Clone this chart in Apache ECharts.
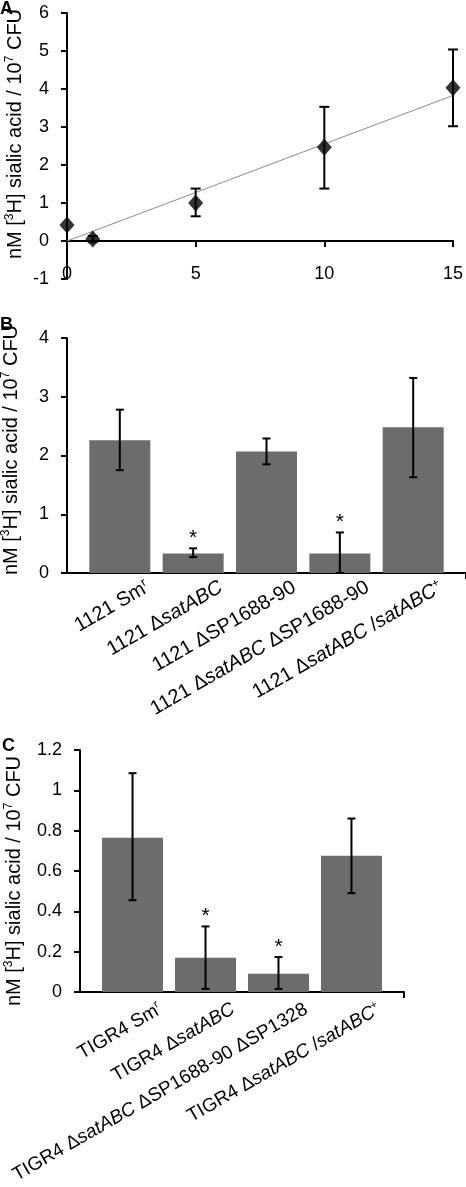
<!DOCTYPE html>
<html>
<head>
<meta charset="utf-8">
<script src="https://cdn.jsdelivr.net/npm/echarts@6/dist/echarts.min.js"></script>
<style>
html,body{margin:0;padding:0;background:#fff;}
#chart{width:466px;height:1187px;}
</style>
</head>
<body>
<div id="chart"></div>
<script>
// ---------- Panel A ----------
const concA = [0, 1, 5, 10, 15];
const meanA = [0.42, 0.05, 1.0, 2.47, 4.03];
const lowA  = [null, -0.03, 0.65, 1.38, 3.02];
const highA = [null, 0.13, 1.38, 3.53, 5.04];
const trendX = [0, 15];
const trendY = [0, 3.83];
const yTicksA = [-1, 0, 1, 2, 3, 4, 5, 6];
const xTicksA = [0, 5, 10, 15];

// ---------- Panel B ----------
const catsB = ['1121 Sm^r', '1121 ΔsatABC', '1121 ΔSP1688-90', '1121 ΔsatABC ΔSP1688-90', '1121 ΔsatABC /satABC^+'];
const meanB = [2.26, 0.33, 2.07, 0.33, 2.48];
const lowB  = [1.75, 0.27, 1.85, 0.0, 1.63];
const highB = [2.78, 0.42, 2.29, 0.69, 3.32];
const sigB  = [false, true, false, true, false];

// ---------- Panel C ----------
const catsC = ['TIGR4 Sm^r', 'TIGR4 ΔsatABC', 'TIGR4 ΔsatABC ΔSP1688-90 ΔSP1328', 'TIGR4 ΔsatABC /satABC^+'];
const meanC = [0.765, 0.17, 0.09, 0.675];
const lowC  = [0.455, 0.015, 0.015, 0.49];
const highC = [1.085, 0.325, 0.173, 0.86];
const sigC  = [false, true, true, false];

const yTitle = 'nM [^3H] sialic acid / 10^7 CFU';

const FONT = '"Liberation Sans", Arial, Helvetica, sans-serif';
const LBL_SHIFT = 0.38;
const PAD = 0.72;

function richName(name) {
  return name.replace(/satABC/g, '{i|satABC}').replace(/\^(.)/g, '{s|$1}');
}
function richTitle(t) {
  return t.split(/\^(.)/).map((p, k) => k % 2 ? '{s|' + p + '}' : '{t|' + p + '}').join('');
}

function labelRich(fs) {
  return {
    i: {fontStyle: 'italic', fontSize: fs, fontFamily: FONT, color: '#000'},
    s: {fontSize: Math.round(fs * 0.6), fontFamily: FONT, color: '#000', verticalAlign: 'top', lineHeight: 12}
  };
}

function errSeries(xi, yi, xs, lo, hi, capW) {
  const data = [];
  xs.forEach((x, i) => { if (lo[i] != null) data.push([x, lo[i], hi[i]]); });
  return {
    type: 'custom', xAxisIndex: xi, yAxisIndex: yi, z: 5, silent: true,
    encode: {x: 0, y: [1, 2]},
    data: data,
    renderItem: function (params, api) {
      const x = api.value(0), l = api.value(1), h = api.value(2);
      const pl = api.coord([x, l]), ph = api.coord([x, h]);
      const st = {stroke: '#000', lineWidth: 2};
      return {type: 'group', children: [
        {type: 'line', shape: {x1: pl[0], y1: pl[1], x2: ph[0], y2: ph[1]}, style: st},
        {type: 'line', shape: {x1: ph[0] - capW / 2, y1: ph[1], x2: ph[0] + capW / 2, y2: ph[1]}, style: st},
        {type: 'line', shape: {x1: pl[0] - capW / 2, y1: pl[1], x2: pl[0] + capW / 2, y2: pl[1]}, style: st}
      ]};
    }
  };
}
function starSeries(xi, yi, sig, hi) {
  const data = [];
  sig.forEach((s, i) => { if (s) data.push([i, hi[i]]); });
  return {
    type: 'custom', xAxisIndex: xi, yAxisIndex: yi, z: 6, silent: true,
    encode: {x: 0, y: 1},
    data: data,
    renderItem: function (params, api) {
      const p = api.coord([api.value(0), api.value(1)]);
      return {type: 'text', x: p[0], y: p[1] - 10,
        style: {text: '*', fontSize: 21, fontFamily: FONT, fill: '#000', align: 'center', verticalAlign: 'middle'}};
    }
  };
}

function catXAxis(gi, cats, margin, fs) {
  const mx = cats.length - 1 + PAD;
  return {
    gridIndex: gi, type: 'value', min: -PAD, max: mx,
    axisLine: {show: true, onZero: false, lineStyle: {color: '#000', width: 2}},
    axisTick: {show: true, length: 6, customValues: [mx], lineStyle: {color: '#000', width: 2}},
    splitLine: {show: false},
    axisLabel: {
      show: true, rotate: 30, margin: margin, fontSize: fs, fontFamily: FONT, color: '#000', lineHeight: fs + 2,
      customValues: cats.map((_, i) => i + LBL_SHIFT),
      formatter: function (v) { return richName(cats[Math.round(v - LBL_SHIFT)]); },
      rich: labelRich(fs)
    }
  };
}
function valYAxis(gi, min, max, interval, fmt) {
  return {
    gridIndex: gi, type: 'value', min: min, max: max, interval: interval,
    axisLine: {show: true, onZero: false, lineStyle: {color: '#000', width: 2}},
    axisTick: {show: true, length: 6, lineStyle: {color: '#000', width: 2}},
    splitLine: {show: false},
    axisLabel: {fontSize: 18, fontFamily: FONT, color: '#000', margin: 18, formatter: fmt}
  };
}

const titleRich = {
  t: {fontSize: 20, fontFamily: FONT, fill: '#000'},
  s: {fontSize: 12, fontFamily: FONT, fill: '#000', verticalAlign: 'top', lineHeight: 14}
};
function titleText(x, y) {
  return {type: 'text', x: x, y: y, rotation: Math.PI / 2,
    style: {text: richTitle(yTitle), rich: titleRich, align: 'center', verticalAlign: 'middle', lineHeight: 22, fill: '#000'}};
}
function letter(t, x, y) {
  return {type: 'text', x: x, y: y, style: {text: t, fontSize: 18, fontWeight: 'bold', fontFamily: FONT, fill: '#000'}};
}

const chart = echarts.init(document.getElementById('chart'), null, {renderer: 'canvas'});
chart.setOption({
  animation: false,
  backgroundColor: '#fff',
  grid: [
    {left: 67, right: 13, top: 13, bottom: 908},
    {left: 67, right: 0, top: 338, bottom: 614},
    {left: 80, right: 62, top: 750, bottom: 182}
  ],
  xAxis: [
    {gridIndex: 0, type: 'value', min: xTicksA[0], max: xTicksA[xTicksA.length - 1], interval: 5,
      axisLine: {show: true, onZero: true, lineStyle: {color: '#000', width: 2}},
      axisTick: {show: true, length: 6, lineStyle: {color: '#000', width: 2}},
      axisLabel: {show: false}, splitLine: {show: false}},
    {gridIndex: 0, type: 'value', position: 'bottom', min: xTicksA[0], max: xTicksA[xTicksA.length - 1], interval: 5,
      axisLine: {show: false, onZero: false}, axisTick: {show: false}, splitLine: {show: false},
      axisLabel: {show: true, margin: -14, fontSize: 18, fontFamily: FONT, color: '#000'}},
    catXAxis(1, catsB, 13, 20),
    catXAxis(2, catsC, 16, 19)
  ],
  yAxis: [
    valYAxis(0, yTicksA[0], yTicksA[yTicksA.length - 1], 1),
    valYAxis(1, 0, 4, 1),
    valYAxis(2, 0, 1.2, 0.2, function (v) { return String(Math.round(v * 10) / 10); })
  ],
  series: [
    {type: 'line', xAxisIndex: 0, yAxisIndex: 0, z: 2, silent: true,
      data: trendX.map((x, i) => [x, trendY[i]]), showSymbol: false, symbol: 'none',
      lineStyle: {color: '#8a8a8a', width: 1}},
    errSeries(0, 0, concA, lowA, highA, 10),
    {type: 'scatter', xAxisIndex: 0, yAxisIndex: 0, z: 7, silent: true,
      data: concA.map((x, i) => [x, meanA[i]]), symbol: 'diamond', symbolSize: [15, 17],
      itemStyle: {color: '#000'}},

    {type: 'bar', xAxisIndex: 2, yAxisIndex: 1, barWidth: 61, silent: true,
      data: meanB.map((v, i) => [i, v]), itemStyle: {color: '#6c6c6c'}},
    errSeries(2, 1, catsB.map((_, i) => i), lowB, highB, 8),
    starSeries(2, 1, sigB, highB),

    {type: 'bar', xAxisIndex: 3, yAxisIndex: 2, barWidth: 61, silent: true,
      data: meanC.map((v, i) => [i, v]), itemStyle: {color: '#6c6c6c'}},
    errSeries(3, 2, catsC.map((_, i) => i), lowC, highC, 8),
    starSeries(3, 2, sigC, highC)
  ],
  graphic: [
    letter('A', 0, 0),
    letter('B', 0, 316),
    letter('C', 2, 737),
    titleText(15, 134),
    titleText(11, 450),
    titleText(14, 881)
  ]
});
</script>
</body>
</html>
